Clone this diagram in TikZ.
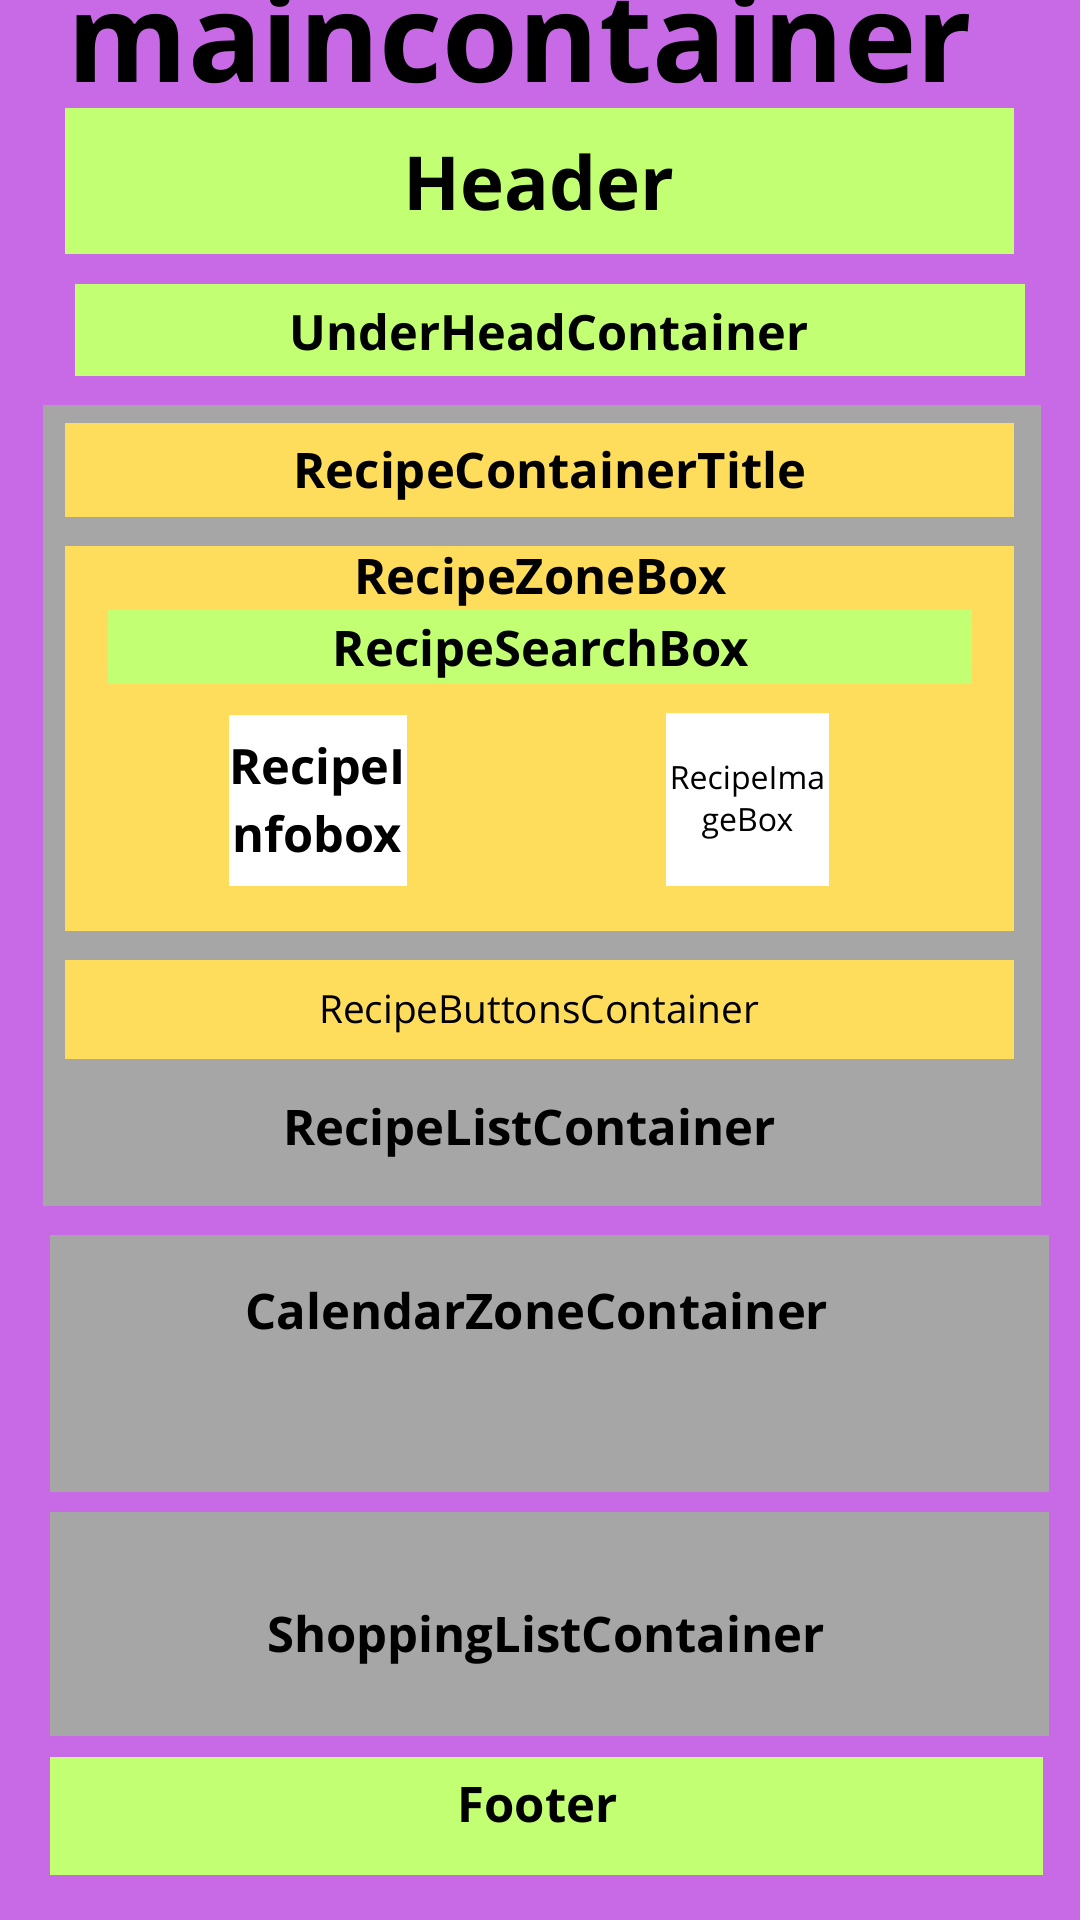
\documentclass[tikz,border=0pt]{standalone}
\usepackage{fontspec}
\setmainfont{Open Sans}
\definecolor{purp}{RGB}{200,106,230}
\definecolor{lime}{RGB}{194,255,114}
\definecolor{gold}{RGB}{255,221,92}
\definecolor{grayb}{RGB}{166,166,166}
\tikzset{
  box/.style={draw=none,rectangle,inner sep=0pt,outer sep=0pt},
  lbl/.style={inner sep=0pt,outer sep=0pt,anchor=base,text=black},
  bfs/.style={font=\bfseries\fontsize{#1}{#1}\selectfont},
  rgs/.style={font=\fontsize{#1}{#1}\selectfont}
}
\begin{document}
\begin{tikzpicture}[x=1pt,y=-1pt]
\fill[purp] (0,0) rectangle (1080,1920);
\useasboundingbox (0,0) rectangle (1080,1920);
% boxes
\fill[lime] (65,108) rectangle (1014,254);
\fill[lime] (75,284) rectangle (1025,376);
\fill[grayb] (43,405) rectangle (1041,1206);
\fill[gold] (65,423) rectangle (1014,517);
\fill[gold] (65,546) rectangle (1014,931);
\fill[lime] (108,610) rectangle (972,684);
\fill[white] (229,715) rectangle (407,886);
\fill[white] (666,713) rectangle (829,886);
\fill[gold] (65,960) rectangle (1014,1059);
\fill[grayb] (50,1235) rectangle (1049,1492);
\fill[grayb] (50,1512) rectangle (1049,1736);
\fill[lime] (50,1757) rectangle (1043,1875);
% labels
\node[lbl,bfs=122.5] (tmain) at (520,82) {maincontainer};
\node[lbl,bfs=74.5] (thead) at (539,210) {Header};
\node[lbl,bfs=48.7] (tunder) at (549,350) {UnderHeadContainer};
\node[lbl,bfs=49] (ttitle) at (550,488) {RecipeContainerTitle};
\node[lbl,bfs=49] (tzone) at (540.5,594) {RecipeZoneBox};
\node[lbl,bfs=49] (tsearch) at (541,666) {RecipeSearchBox};
\node[lbl,bfs=48.7] (tinfoa) at (317.5,784) {RecipeI};
\node[lbl,bfs=48.7] (tinfob) at (317.5,852) {nfobox};
\node[lbl,rgs=32] (timga) at (747.5,789) {RecipeIma};
\node[lbl,rgs=32] (timgb) at (747.5,831) {geBox};
\node[lbl,rgs=38.8] (tbtn) at (539,1023) {RecipeButtonsContainer};
\node[lbl,bfs=49] (tlist) at (529.5,1145) {RecipeListContainer};
\node[lbl,bfs=49] (tcal) at (537,1329) {CalendarZoneContainer};
\node[lbl,bfs=49] (tshop) at (546,1652) {ShoppingListContainer};
\node[lbl,bfs=49] (tfoot) at (537.5,1822) {Footer};
\end{tikzpicture}
\end{document}
